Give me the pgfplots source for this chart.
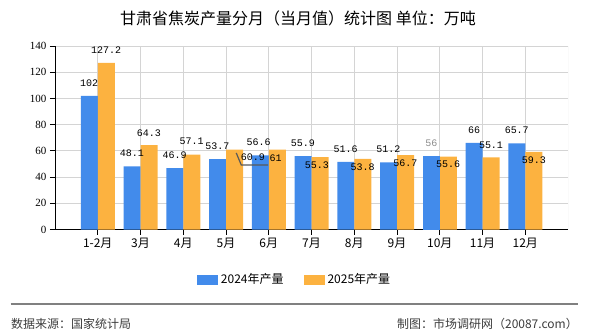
\documentclass[border=0pt]{standalone}
\usepackage{pgfplots}
\pgfplotsset{compat=1.18}
\usepackage{pgfplotstable}
\usepackage{fontspec}
\setmainfont{Noto Sans CJK SC}
\newfontfamily\numfont{Liberation Serif}
\newfontfamily\labfont{Liberation Mono}

\definecolor{bar24}{RGB}{66,139,235}
\definecolor{bar25}{RGB}{252,178,64}
\definecolor{gridc}{RGB}{212,212,212}
\definecolor{footc}{RGB}{60,60,60}

% monthly output, 10k tonnes; dx/dy move the value label (pt)
\pgfplotstableread{
x  y     dx    dy
0  102   0     13
1  48.1  0     13
2  46.9  0     13
3  53.7  0     13
4  56.6  -1.5  13
5  55.9  0     13
6  51.6  0     13
7  51.2  0     13
9  66    0     13
10 65.7  0     13
}\tabA

% October 2024, its label is set in grey
\pgfplotstableread{
x  y     dx    dy
8  56    0     13
}\tabAoct

\pgfplotstableread{
x  y      dx    dy
0  127.2  0     13
1  64.3   0     12
2  57.1   0     13
3  60.9   18.5  -8
4  61     -1.5  -9
5  55.3   -3    -8
6  53.8   0     -8
7  56.7   0     -8
8  55.6   0     -8
9  55.1   0     12
10 59.3   0     -8
}\tabB

\begin{document}
\begin{tikzpicture}
\useasboundingbox (0,0) rectangle (590pt,330pt);

\node[font=\fontsize{16}{18}\selectfont] at (298pt,312pt)
  {甘肃省焦炭产量分月（当月值）统计图 单位：万吨};

\begin{axis}[
  at={(55pt,100.5pt)}, anchor=south west,
  scale only axis, width=513pt, height=183.5pt,
  xmin=-1, xmax=11, ymin=0, ymax=140,
  axis x line=bottom, axis y line=left,
  axis line style={-, black, line width=0.9pt},
  xtick={0,...,10},
  xticklabels={1-2月,3月,4月,5月,6月,7月,8月,9月,10月,11月,12月},
  ytick={0,20,...,140},
  tick align=outside, major tick length=5pt,
  tick style={black, line width=0.8pt},
  xticklabel style={font=\fontsize{12}{14}\selectfont},
  yticklabel style={font=\numfont\fontsize{11}{12}\selectfont},
  /pgf/number format/assume math mode=true,
  grid=major, major grid style={gridc, line width=0.9pt},
  ybar, bar width=17pt,
  nodes near coords={\labfont\fontsize{10}{12}\selectfont
    \pgfmathprintnumber[assume math mode=true]{\pgfplotspointmeta}},
  visualization depends on={\thisrow{dx} \as \ldx},
  visualization depends on={\thisrow{dy} \as \ldy},
  every node near coord/.append style={anchor=center, inner sep=0pt,
    xshift=\ldx pt, yshift=\ldy pt},
  legend columns=2,
  legend style={at={(0.468,-0.2725)}, anchor=center, draw=none, fill=none,
    font=\fontsize{12}{14}\selectfont, inner sep=0pt,
    /tikz/every even column/.append style={column sep=17pt},
    nodes={inner sep=3pt}},
]
\addplot[fill=bar24, draw=none, bar shift=-8.5pt,
  legend image code/.code={\fill[bar24] (0pt,-5pt) rectangle (21pt,5pt);}]
  table[x=x, y=y] {\tabA};
\addlegendentry{2024年产量}
\addplot[fill=bar25, draw=none, bar shift=8.5pt,
  legend image code/.code={\fill[bar25] (0pt,-5pt) rectangle (21pt,5pt);}]
  table[x=x, y=y] {\tabB};
\addlegendentry{2025年产量}
\addplot[fill=bar24, draw=none, bar shift=-8.5pt, forget plot,
  every node near coord/.append style={text=black!45}]
  table[x=x, y=y] {\tabAoct};

% right edge of the plot area
\draw[gridc, line width=0.9pt] (axis cs:11,0) -- (axis cs:11,140);
% leader line of the moved May label
\draw[black!65, line width=1.2pt] (axis cs:3.24,58.4) -- (axis cs:3.357,49.2) -- (axis cs:3.988,49.2);
\end{axis}

\draw[gray, line width=1.2pt] (10.7pt,26pt) -- (578pt,26pt);
\node[anchor=west, text=footc, font=\fontsize{12}{14}\selectfont, inner sep=0pt]
  at (11pt,6.5pt) {数据来源：国家统计局};
\node[anchor=east, text=footc, font=\fontsize{12}{14}\selectfont, inner sep=0pt]
  at (578pt,6.5pt) {制图：市场调研网（20087.com）};
\end{tikzpicture}
\end{document}
